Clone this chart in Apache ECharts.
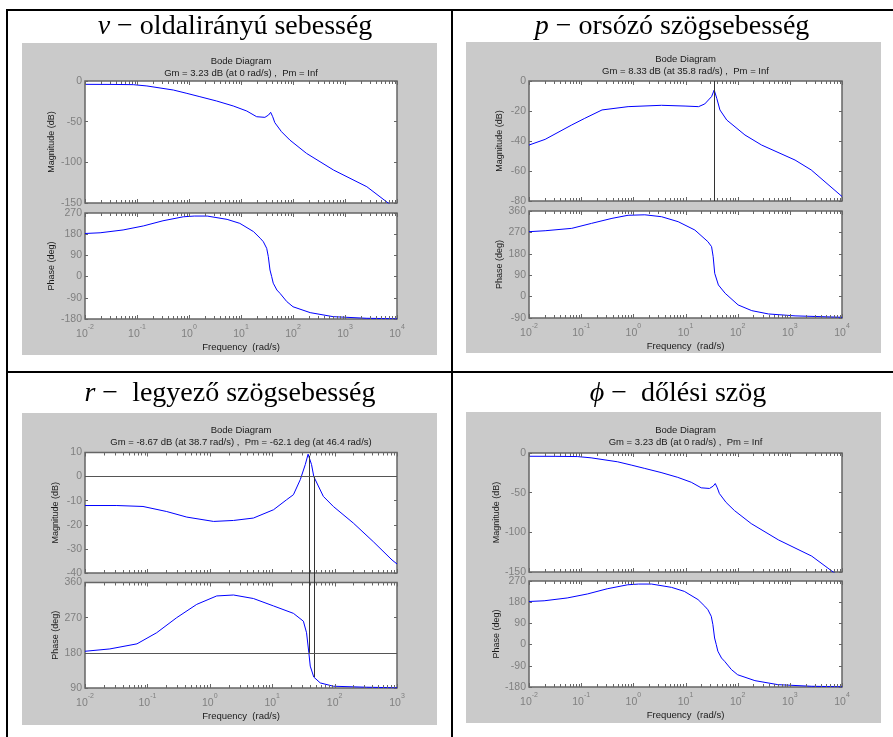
<!DOCTYPE html>
<html>
<head>
<meta charset="utf-8">
<script src="https://cdn.jsdelivr.net/npm/echarts@6/dist/echarts.min.js"></script>
<style>
  html, body { margin: 0; padding: 0; background: #fff; }
  #chart { width: 893px; height: 737px; }
</style>
</head>
<body>
<div id="chart"></div>
<script>
// ---------- frequency responses (rad/s, dB, deg) ----------
// v – lateral velocity (also used for the roll angle, identical response)
const vMagW  = [0.01, 0.0316, 0.085, 0.155, 0.5, 0.91, 1.62, 3.4, 7.1, 12.9, 20, 28.8, 33.9, 37.2, 40.7, 44.7, 60, 87, 182, 603, 2630, 6760, 10000];
const vMagDb = [-4.1, -4.2, -4.5, -6.1, -11.1, -15.2, -19.3, -24.6, -30.7, -36.9, -43.9, -44.7, -41.8, -38.5, -43.9, -51.2, -62.3, -72.6, -89, -109.5, -130, -150, -157];
const vPhW   = [0.01, 0.0195, 0.054, 0.132, 0.316, 0.78, 1.26, 2.24, 5.4, 9.5, 17.4, 23.4, 26.9, 31.2, 33.5, 36.1, 38.9, 41.7, 49, 56.2, 75.9, 100, 214, 589, 2630, 10000];
const vPhDeg = [183, 186, 198, 215, 237, 254, 257, 257, 243, 226, 191, 163, 148, 120, 85, 28, 0, -28, -57, -71, -106, -128, -153, -170, -177, -179];

// p – roll rate
const pMagW  = [0.01, 0.0204, 0.066, 0.117, 0.251, 0.794, 3.47, 9.8, 17.8, 23.4, 31.6, 35.5, 39.8, 45.7, 61.7, 138, 288, 1259, 2570, 10000];
const pMagDb = [-42.7, -38.9, -29.3, -24.9, -19.3, -17.1, -16.2, -16.7, -17.1, -15.3, -10.4, -6, -11.6, -19.3, -26, -36, -42.7, -52.7, -59.3, -77];
const pPhW   = [0.01, 0.0204, 0.066, 0.158, 0.389, 0.794, 1.66, 3.47, 7.24, 15.1, 26.9, 31.6, 33.9, 36.3, 42.7, 57.5, 102, 186, 389, 1259, 10000];
const pPhDeg = [273, 277, 287, 308, 329, 342, 344, 336, 315, 280, 231, 210, 168, 98, 49, 14, -35, -59, -73, -81, -87];

// r – yaw rate
const rMagW  = [0.01, 0.0324, 0.085, 0.204, 0.427, 1.15, 2.4, 5.0, 10.5, 17, 21.9, 28.2, 33.9, 37.6, 38.7, 42.7, 46.4, 66, 95.5, 200, 417, 832, 1000];
const rMagDb = [-12, -12, -12.4, -14.5, -16.8, -18.6, -18.2, -17.2, -13.75, -9.6, -7.5, -1.25, 5, 9.3, 8.67, 5, 0, -8.2, -12.4, -19.3, -27, -34.6, -36.25];
const rPhW   = [0.01, 0.025, 0.068, 0.141, 0.295, 0.617, 1.29, 2.4, 5.0, 10.5, 21.9, 31.6, 35.5, 38.7, 40.7, 46.4, 58.9, 95.5, 324, 1000];
const rPhDeg = [184, 190, 203, 231.5, 270, 304, 325.6, 328, 319, 300, 281, 261, 231.5, 180, 146, 117.9, 103, 94.5, 92, 90.5];

// stability margins printed above each diagram
const vMargin = { gm: 3.23, wgm: 0, pm: null };
const pMargin = { gm: 8.33, wgm: 35.8, pm: null };
const rMargin = { gm: -8.67, wgm: 38.7, pm: -62.1, wpm: 46.4 };

// panel captions
const captions = [
  { sym: 'v', text: ' − oldalirányú sebesség' },
  { sym: 'p', text: ' − orsózó szögsebesség' },
  { sym: 'r', text: ' −  legyező szögsebesség' },
  { sym: 'ϕ', text: ' −  dőlési szög' }
];

// axis ranges: [min, max, step]
const magRangeV = [-150, 0, 50];
const phRangeV  = [-180, 270, 90];
const magRangeP = [-80, 0, 20];
const phRangeP  = [-90, 360, 90];
const magRangeR = [-40, 10, 10];
const phRangeR  = [90, 360, 90];

const freqAxisName = 'Frequency  (rad/s)';
const magAxisName = 'Magnitude (dB)';
const phAxisName = 'Phase (deg)';

// ---------- helpers ----------
const SANS = 'Liberation Sans, Arial, sans-serif';
const SERIF = 'Liberation Serif, Times New Roman, serif';
const pts = (w, v) => w.map((x, i) => [x, v[i]]);

function marginText(m) {
  let s = 'Gm = ' + m.gm.toFixed(2) + ' dB (at ' + m.wgm + ' rad/s) ,  Pm = ';
  s += (m.pm == null) ? 'Inf' : m.pm.toFixed(1) + ' deg (at ' + m.wpm + ' rad/s)';
  return s;
}

const grids = [], xAxes = [], yAxes = [], series = [], graphics = [];

// log-axis tick marks (decades and 2..9 subdivisions), drawn inward at top and bottom
function tickSeries(gi, wMax, yRef) {
  const data = [];
  const eMax = Math.round(Math.log10(wMax));
  for (let e = -2; e < eMax; e++) {
    for (let m = 1; m <= 9; m++) data.push([m * Math.pow(10, e), m === 1 ? 1 : 0]);
  }
  data.push([wMax, 1]);
  return {
    type: 'custom', xAxisIndex: gi, yAxisIndex: 2 * gi, silent: true, z: 3, clip: false,
    encode: { x: 0 }, data,
    renderItem(params, api) {
      const cs = params.coordSys;
      const x = Math.round(api.coord([api.value(0), yRef])[0]) + 0.5;
      const len = api.value(1) ? 4 : 3;
      const style = { stroke: '#666', lineWidth: 1 };
      return {
        type: 'group', children: [
          { type: 'line', shape: { x1: x, y1: cs.y, x2: x, y2: cs.y + len }, style },
          { type: 'line', shape: { x1: x, y1: cs.y + cs.height, x2: x, y2: cs.y + cs.height - len }, style }
        ]
      };
    }
  };
}

// vertical margin markers: 'down' runs from the value to the plot bottom,
// 'up' runs from above the plot top (across the gap) to the value
function markerSeries(gi, items, mode, gap) {
  return {
    type: 'custom', xAxisIndex: gi, yAxisIndex: 2 * gi, silent: true, z: 4, clip: false,
    data: items,
    renderItem(params, api) {
      const cs = params.coordSys;
      const p = api.coord([api.value(0), api.value(1)]);
      const x = Math.round(p[0]) + 0.5;
      const y1 = mode === 'down' ? p[1] : cs.y - gap;
      const y2 = mode === 'down' ? cs.y + cs.height : p[1];
      return { type: 'line', shape: { x1: x, y1, x2: x, y2 }, style: { stroke: '#333', lineWidth: 1 } };
    }
  };
}

function addPlot(rect, wMax, range, isPhase, yName, yGap, curve, hLine) {
  const gi = grids.length;
  grids.push({
    left: rect[0], top: rect[1], width: rect[2], height: rect[3],
    show: true, backgroundColor: '#fff', borderColor: '#666', borderWidth: 1.5,
    containLabel: false, outerBoundsMode: 'none'
  });
  xAxes.push({
    type: 'log', logBase: 10, gridIndex: gi, min: 0.01, max: wMax, position: 'bottom',
    axisLine: { show: false }, axisTick: { show: false }, splitLine: { show: false },
    axisLabel: isPhase ? {
      show: true, margin: 5, showMinLabel: true, showMaxLabel: true,
      formatter: v => '{b|10}{s|' + Math.round(Math.log10(v)) + '}',
      rich: {
        b: { fontFamily: SANS, fontSize: 10.5, color: '#808080', lineHeight: 16, verticalAlign: 'bottom' },
        s: { fontFamily: SANS, fontSize: 7, color: '#808080', lineHeight: 8, verticalAlign: 'top' }
      }
    } : { show: false },
    name: isPhase ? freqAxisName : '', nameLocation: 'middle', nameGap: 23,
    nameTextStyle: { fontFamily: SANS, fontSize: 9.5, color: '#1a1a1a' }
  });
  yAxes.push({
    type: 'value', gridIndex: gi, position: 'left', min: range[0], max: range[1], interval: range[2],
    axisLine: { show: false }, splitLine: { show: false },
    axisTick: { show: true, inside: true, length: 3, lineStyle: { color: '#666' } },
    axisLabel: { show: true, margin: 3, fontFamily: SANS, fontSize: 10.5, color: '#808080', showMinLabel: true, showMaxLabel: true },
    name: yName, nameLocation: 'middle', nameRotate: 90, nameGap: yGap,
    nameTextStyle: { fontFamily: SANS, fontSize: 9, color: '#1a1a1a' }
  });
  yAxes.push({
    type: 'value', gridIndex: gi, position: 'right', min: range[0], max: range[1], interval: range[2],
    axisLine: { show: false }, splitLine: { show: false }, axisLabel: { show: false },
    axisTick: { show: true, inside: true, length: 3, lineStyle: { color: '#666' } }
  });
  const line = {
    type: 'line', xAxisIndex: gi, yAxisIndex: 2 * gi, data: curve, symbol: 'none', showSymbol: false,
    smooth: false,
    lineStyle: { color: '#0000ff', width: 1 }, z: 2, silent: true
  };
  if (hLine != null) {
    line.markLine = {
      silent: true, symbol: 'none', label: { show: false },
      lineStyle: { color: '#555', width: 1, type: 'solid' }, data: [{ yAxis: hLine }]
    };
  }
  series.push(line);
  series.push(tickSeries(gi, wMax, range[0]));
  return gi;
}

// ---------- panel layout ----------
const panels = [
  { cap: captions[0], capX: 235, capY: 27, bg: [22, 43, 415, 312], headY: 67, margin: vMargin, wMax: 1e4,
    mag: { rect: [85, 81, 312, 122], range: magRangeV, gap: 29, curve: pts(vMagW, vMagDb) },
    ph:  { rect: [85, 213, 312, 106], range: phRangeV, gap: 29, curve: pts(vPhW, vPhDeg) } },
  { cap: captions[1], capX: 672, capY: 27, bg: [466, 42, 415, 311], headY: 65, margin: pMargin, wMax: 1e4,
    mag: { rect: [529, 81, 313, 120], range: magRangeP, gap: 25, curve: pts(pMagW, pMagDb) },
    ph:  { rect: [529, 211, 313, 107], range: phRangeP, gap: 25, curve: pts(pPhW, pPhDeg) } },
  { cap: captions[2], capX: 230, capY: 394, bg: [22, 413, 415, 312], headY: 436, margin: rMargin, wMax: 1e3,
    mag: { rect: [85, 452.5, 312, 120.5], range: magRangeR, gap: 25, curve: pts(rMagW, rMagDb), hLine: 0 },
    ph:  { rect: [85, 582.5, 312, 105.5], range: phRangeR, gap: 25, curve: pts(rPhW, rPhDeg), hLine: 180 } },
  { cap: captions[3], capX: 678, capY: 394, bg: [466, 412, 415, 311], headY: 436, margin: vMargin, wMax: 1e4,
    mag: { rect: [529, 453, 313, 119], range: magRangeV, gap: 28, curve: pts(vMagW, vMagDb) },
    ph:  { rect: [529, 581, 313, 106], range: phRangeV, gap: 28, curve: pts(vPhW, vPhDeg) } }
];

const magIdx = [], phIdx = [];
panels.forEach(pn => {
  graphics.push({ type: 'rect', z: -5, silent: true,
    shape: { x: pn.bg[0], y: pn.bg[1], width: pn.bg[2], height: pn.bg[3] }, style: { fill: '#cacaca' } });
  graphics.push({ type: 'text', z: 10, silent: true, x: pn.capX, y: pn.capY,
    style: {
      text: '{i|' + pn.cap.sym + '}{n|' + pn.cap.text + '}', align: 'center', verticalAlign: 'middle',
      rich: {
        i: { fontFamily: SERIF, fontStyle: 'italic', fontSize: 28, fill: '#000' },
        n: { fontFamily: SERIF, fontSize: 28, fill: '#000' }
      }
    } });
  const cx = pn.mag.rect[0] + pn.mag.rect[2] / 2;
  graphics.push({ type: 'text', z: 10, silent: true, x: cx, y: pn.headY,
    style: { text: 'Bode Diagram\n' + marginText(pn.margin), align: 'center', verticalAlign: 'middle',
      fontFamily: SANS, fontSize: 9.5, lineHeight: 12, fill: '#1a1a1a' } });
  magIdx.push(addPlot(pn.mag.rect, pn.wMax, pn.mag.range, false, magAxisName, pn.mag.gap, pn.mag.curve, pn.mag.hLine));
  phIdx.push(addPlot(pn.ph.rect, pn.wMax, pn.ph.range, true, phAxisName, pn.ph.gap, pn.ph.curve, pn.ph.hLine));
});

// margin markers
series.push(markerSeries(magIdx[1], [[pMargin.wgm, 0]], 'down', 0));
series.push(markerSeries(magIdx[2], [[rMargin.wgm, -rMargin.gm], [rMargin.wpm, 0]], 'down', 0));
series.push(markerSeries(phIdx[2], [[rMargin.wgm, 180], [rMargin.wpm, 180 + rMargin.pm]], 'up', 10));

// table rules
[[6, 9, 2, 728], [6, 9, 887, 2], [451, 9, 2, 728], [6, 371, 887, 2]].forEach(r => {
  graphics.push({ type: 'rect', z: 20, silent: true, shape: { x: r[0], y: r[1], width: r[2], height: r[3] }, style: { fill: '#000' } });
});

const chart = echarts.init(document.getElementById('chart'), null, { renderer: 'canvas' });
chart.setOption({
  animation: false,
  backgroundColor: '#fff',
  grid: grids,
  xAxis: xAxes,
  yAxis: yAxes,
  series: series,
  graphic: { elements: graphics }
});
</script>
</body>
</html>
